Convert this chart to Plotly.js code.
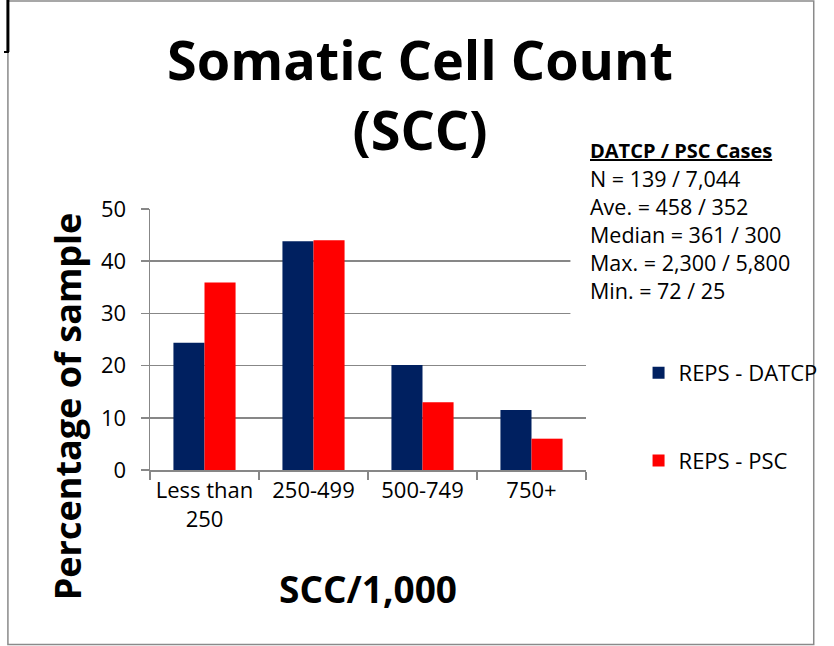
<!DOCTYPE html>
<html>
<head>
<meta charset="utf-8">
<script src="https://cdn.plot.ly/plotly-3.0.1.min.js"></script>
<style>
  html, body { margin: 0; padding: 0; background: #ffffff; }
  #chart { width: 834px; height: 646px; }
</style>
</head>
<body>
<div id="chart"></div>
<script>
// ---- data ----
const categories = ["Less than<br>250", "250-499", "500-749", "750+"];
const datcpValues = [24.4, 43.8, 20.1, 11.5];
const pscValues = [35.9, 44.0, 13.0, 6.0];
const seriesNames = ["REPS - DATCP", "REPS - PSC"];
const yTickValues = [0, 10, 20, 30, 40, 50];
const titleLines = ["Somatic Cell Count", "(SCC)"];
const xTitle = "SCC/1,000";
const yTitle = "Percentage of sample";
const statsHeader = "DATCP / PSC Cases";
const statsLines = [
  "N = 139 / 7,044",
  "Ave. = 458 / 352",
  "Median = 361 / 300",
  "Max. = 2,300 / 5,800",
  "Min. = 72 / 25"
];

// ---- layout helpers (pixel -> paper) ----
const L = 150, R = 598, T = 209, B = 470;
const W = 834, H = 646;
const px = x => (x - L) / (R - L);
const py = y => (B - y) / (B - T);

const FONT = "Open Sans, Noto Sans, sans-serif";
const GRID = "#878787";

const traces = [
  {
    type: "bar", name: seriesNames[0], x: categories, y: datcpValues,
    marker: { color: "#002060", line: { width: 0 } },
    legendgroup: "a", hoverinfo: "x+y"
  },
  {
    type: "bar", name: seriesNames[1], x: categories, y: pscValues,
    marker: { color: "#FF0000", line: { width: 0 } },
    legendgroup: "b", hoverinfo: "x+y"
  }
];

const annotations = [
  {
    text: "<b><u>" + statsHeader + "</u></b>", xref: "paper", yref: "paper",
    x: px(600), y: py(151), xanchor: "left", yanchor: "middle", showarrow: false,
    font: { family: FONT, size: 20, color: "#000" }
  },
  {
    text: statsLines.join("<br>"), xref: "paper", yref: "paper",
    x: px(600), y: py(234), xanchor: "left", yanchor: "middle", showarrow: false,
    align: "left",
    font: { family: FONT, size: 21.5, color: "#000" }
  },
  {
    text: "<b>" + yTitle + "</b>", xref: "paper", yref: "paper",
    x: px(65), y: py(406), xanchor: "center", yanchor: "middle", showarrow: false,
    textangle: -90, font: { family: FONT, size: 36, color: "#000" }
  },
  {
    text: "<b>" + xTitle + "</b>", xref: "paper", yref: "paper",
    x: px(374), y: py(588), xanchor: "center", yanchor: "middle", showarrow: false,
    font: { family: FONT, size: 37, color: "#000" }
  }
];

const shapes = [
  // white text box behind the statistics (covers gridline ends)
  { type: "rect", xref: "paper", yref: "paper", layer: "above",
    x0: px(582), x1: px(W), y0: py(330), y1: py(135),
    fillcolor: "#ffffff", line: { width: 0 } },
  // outer border of the chart
  { type: "rect", xref: "paper", yref: "paper", layer: "above",
    x0: px(4), x1: px(832), y0: py(644.5), y1: py(1),
    fillcolor: "rgba(0,0,0,0)", line: { color: "#8a8a8a", width: 1.5 } },
  // black fragment at top-left corner
  { type: "line", xref: "paper", yref: "paper", layer: "above",
    x0: px(4), x1: px(4), y0: py(0), y1: py(52),
    line: { color: "#000", width: 3 } },
  { type: "line", xref: "paper", yref: "paper", layer: "above",
    x0: px(0), x1: px(5), y0: py(52), y1: py(52),
    line: { color: "#000", width: 2 } }
];

const layout = {
  width: W, height: H,
  margin: { l: L, r: W - R, t: T, b: H - B, pad: 0 },
  paper_bgcolor: "#ffffff", plot_bgcolor: "#ffffff",
  font: { family: FONT, color: "#000" },
  title: {
    text: "<b>" + titleLines.join("<br>") + "</b>",
    x: 420 / W, xanchor: "center", xref: "container",
    y: 1 - 80 / H, yanchor: "middle", yref: "container",
    font: { family: FONT, size: 54, color: "#000" }
  },
  barmode: "group", bargap: 0.43, bargroupgap: 0,
  xaxis: {
    type: "category", tickson: "boundaries",
    showline: true, linecolor: GRID, linewidth: 1.5,
    ticks: "outside", ticklen: 8, tickcolor: GRID, tickwidth: 1.5,
    showgrid: false, zeroline: false,
    tickfont: { family: FONT, size: 22, color: "#000" },
    fixedrange: true
  },
  yaxis: {
    range: [0, 50], tickvals: yTickValues,
    showline: true, linecolor: GRID, linewidth: 1.5,
    ticks: "outside", ticklen: 8, tickcolor: GRID, tickwidth: 1.5,
    showgrid: true, gridcolor: GRID, gridwidth: 1.5, zeroline: false,
    tickfont: { family: FONT, size: 22, color: "#000" },
    ticklabelstandoff: 10,
    fixedrange: true
  },
  showlegend: true,
  legend: {
    x: px(652), y: py(352), xanchor: "left", yanchor: "top",
    traceorder: "grouped", tracegroupgap: 56,
    font: { family: FONT, size: 22, color: "#000" },
    bgcolor: "rgba(0,0,0,0)", borderwidth: 0
  },
  annotations: annotations,
  shapes: shapes
};

Plotly.newPlot("chart", traces, layout, { displayModeBar: false, staticPlot: true });
</script>
</body>
</html>
